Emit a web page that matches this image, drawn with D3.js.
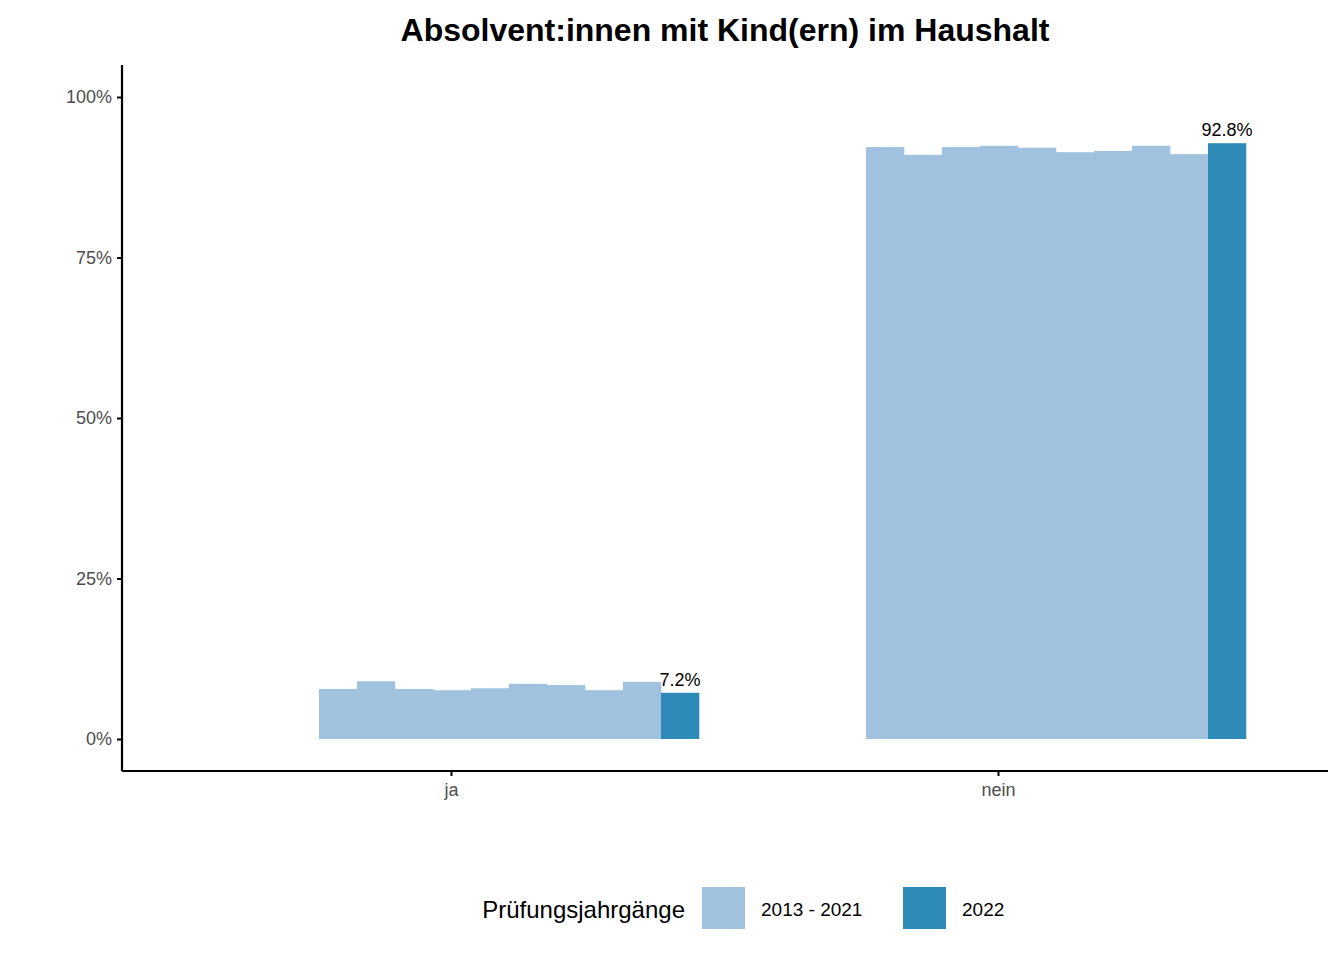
<!DOCTYPE html>
<html><head><meta charset="utf-8">
<script src="https://cdn.jsdelivr.net/npm/d3@7"></script>
<style>body{margin:0;background:#fff;font-family:"Liberation Sans",Arial,sans-serif}</style>
</head><body><svg id="c" width="1344" height="960"></svg>
<script>
const categories = ["ja", "nein"];
const years = ["2013","2014","2015","2016","2017","2018","2019","2020","2021","2022"];
const jaValues = [7.8, 9.0, 7.8, 7.6, 7.9, 8.6, 8.4, 7.6, 8.9, 7.2];
const neinValues = [92.2, 91.0, 92.2, 92.4, 92.1, 91.4, 91.6, 92.4, 91.1, 92.8];
const yTicks = [0, 25, 50, 75, 100];
const legendLabels = ["2013 - 2021", "2022"];
const colors = {light: "#a1c2de", dark: "#2e8bb8"};

const svg = d3.select("#c");
const x = d3.scalePoint().domain(categories).range([451, 998]);
const y = d3.scaleLinear().domain([0, 100]).range([739, 97]);
const inner = d3.scaleBand().domain(years).range([-132, 248]);
const series = {ja: jaValues, nein: neinValues};

categories.forEach(cat => {
  const g = svg.append("g").attr("transform", `translate(${x(cat)},0)`);
  g.selectAll("rect").data(years.map((yr, i) => ({yr, v: series[cat][i]}))).join("rect")
    .attr("x", d => inner(d.yr)).attr("width", inner.bandwidth() + 0.3)
    .attr("y", d => y(d.v)).attr("height", d => y(0) - y(d.v))
    .attr("fill", d => d.yr === "2022" ? colors.dark : colors.light);
  const last = series[cat][9];
  g.append("text").attr("x", inner("2022") + inner.bandwidth()/2).attr("y", y(last) - 7)
    .attr("text-anchor", "middle").attr("font-size", 18).attr("fill", "#000")
    .text(last.toFixed(1) + "%");
});

const ya = svg.append("g").attr("transform", "translate(122,0)")
  .call(d3.axisLeft(y).tickValues(yTicks).tickFormat(d => d + "%").tickSizeOuter(0).tickSize(5).tickPadding(5));
ya.select(".domain").attr("d", "M0,65V771").attr("stroke-width", 2.2);
ya.selectAll("text").attr("font-size", 18).attr("fill", "#4d4d4d").attr("font-family", "Liberation Sans, Arial");
ya.selectAll("line").attr("stroke-width", 2);

const xa = svg.append("g").attr("transform", "translate(0,771)")
  .call(d3.axisBottom(x).tickSize(5).tickPadding(7).tickSizeOuter(0));
xa.select(".domain").attr("d", "M122,0H1328").attr("stroke-width", 2.2);
xa.selectAll("text").attr("font-size", 18).attr("fill", "#4d4d4d").attr("font-family", "Liberation Sans, Arial");
xa.selectAll("line").attr("stroke-width", 2);

svg.append("text").attr("x", 725).attr("y", 41).attr("text-anchor", "middle")
  .attr("font-size", 32).attr("font-weight", "bold").text("Absolvent:innen mit Kind(ern) im Haushalt");

const lg = svg.append("g");
lg.append("text").attr("x", 685).attr("y", 918).attr("text-anchor", "end").attr("font-size", 24).text("Prüfungsjahrgänge");
const lx = [702, 903];
legendLabels.forEach((l, i) => {
  lg.append("rect").attr("x", lx[i]).attr("y", 887).attr("width", 43).attr("height", 42)
    .attr("fill", i ? colors.dark : colors.light);
  lg.append("text").attr("x", lx[i] + 59).attr("y", 916).attr("font-size", 19).text(l);
});
</script></body></html>
